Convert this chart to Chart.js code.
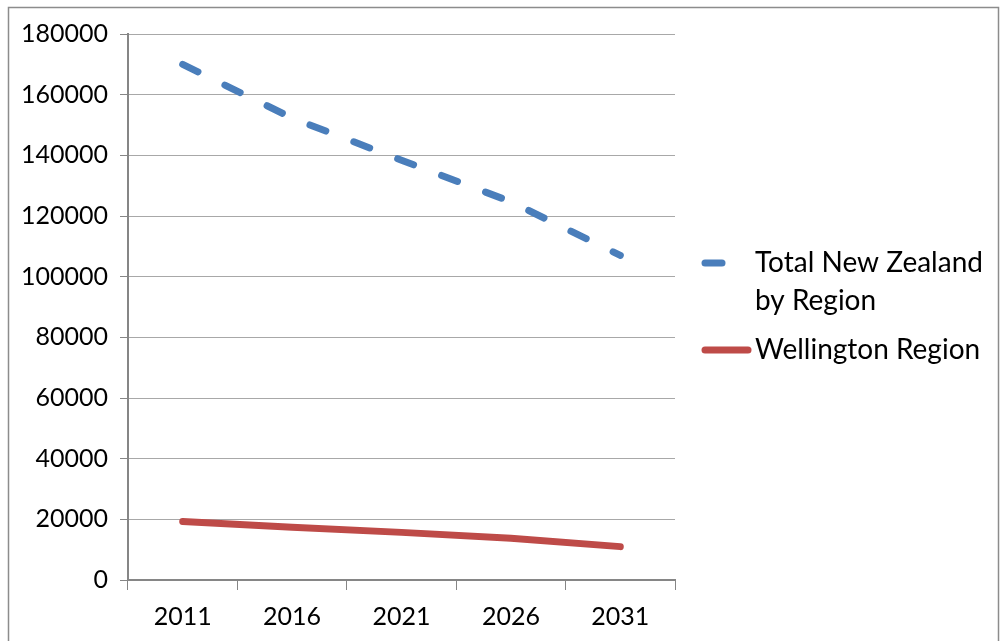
<!DOCTYPE html>
<html>
<head>
<meta charset="utf-8">
<script src="https://cdn.jsdelivr.net/npm/chart.js@4"></script>
<style>
    body { margin: 0; background: #fff; }
    #wrap { position: relative; width: 1002px; height: 641px; }
</style>
</head>
<body>
<div id="wrap"><canvas id="popChart"></canvas></div>
<script>
// Chart data
const years = ['2011', '2016', '2021', '2026', '2031'];
const totalNZ = [170000, 152300, 138400, 124700, 107000];
const wellington = [19300, 17400, 15700, 13800, 11000];
const seriesNames = [['Total New Zealand', 'by Region'], ['Wellington Region']];
const yMin = 0;
const yMax = 180000;
const yStep = 20000;

const FONT = "Lato, 'Open Sans', sans-serif";

// Outer frame like the spreadsheet chart border
const framePlugin = {
    id: 'frame',
    beforeDraw(chart) {
        const ctx = chart.ctx;
        ctx.save();
        ctx.strokeStyle = '#8c8c8c';
        ctx.lineWidth = 1.5;
        ctx.strokeRect(8.5, 7.5, 990, 700);
        ctx.restore();
    }
};

// Legend on the right, with wrapped first label
const sideLegend = {
    id: 'sideLegend',
    afterDraw(chart) {
        const ctx = chart.ctx;
        const area = chart.chartArea;
        const x0 = area.right + 30;
        const x1 = area.right + 73;
        const tx = area.right + 80;
        const rows = [263, 350];
        ctx.save();
        ctx.font = '28px ' + FONT;
        ctx.fillStyle = '#000';
        ctx.textBaseline = 'middle';
        chart.data.datasets.forEach((ds, i) => {
            const y = rows[i];
            ctx.beginPath();
            ctx.strokeStyle = ds.borderColor;
            ctx.lineWidth = ds.borderWidth;
            ctx.lineCap = 'round';
            ctx.setLineDash(ds.borderDash || []);
            ctx.moveTo(x0, y);
            ctx.lineTo(x1, y);
            ctx.stroke();
            ctx.setLineDash([]);
            seriesNames[i].forEach((line, j) => {
                ctx.fillText(line, tx, y + j * 38);
            });
        });
        ctx.restore();
    }
};

const ctx = document.getElementById('popChart').getContext('2d');
new Chart(ctx, {
    type: 'line',
    data: {
        labels: years,
        datasets: [{
            label: seriesNames[0].join(' '),
            data: totalNZ,
            borderColor: '#4a7ebb',
            borderWidth: 7,
            borderDash: [17, 30],
            borderCapStyle: 'round',
            pointRadius: 0,
            tension: 0,
            fill: false
        }, {
            label: seriesNames[1].join(' '),
            data: wellington,
            borderColor: '#be4b48',
            borderWidth: 7,
            borderCapStyle: 'round',
            pointRadius: 0,
            tension: 0,
            fill: false
        }]
    },
    options: {
        responsive: true,
        maintainAspectRatio: false,
        animation: false,
        layout: {
            padding: { left: 0, right: 327, top: 34, bottom: 0 }
        },
        plugins: {
            legend: { display: false },
            tooltip: { enabled: false }
        },
        scales: {
            x: {
                offset: true,
                grid: {
                    offset: true,
                    drawOnChartArea: false,
                    drawTicks: true,
                    tickLength: 10,
                    color: '#868686'
                },
                border: { color: '#868686', width: 2 },
                ticks: {
                    color: '#000',
                    padding: 12,
                    maxRotation: 0,
                    font: { family: FONT, size: 25 }
                },
                afterFit(scale) {
                    scale.height = 61;
                }
            },
            y: {
                min: yMin,
                max: yMax,
                grid: {
                    color: '#a8a8a8',
                    lineWidth: 1,
                    borderDash: [1, 1],
                    tickLength: 8,
                    tickColor: '#868686',
                    tickBorderDash: []
                },
                border: { color: '#868686', width: 2 },
                ticks: {
                    stepSize: yStep,
                    color: '#000',
                    padding: 12,
                    font: { family: FONT, size: 25 },
                    callback: v => String(v)
                },
                afterFit(scale) {
                    scale.width = 128;
                    scale.paddingTop = 0;
                    scale.paddingBottom = 0;
                }
            }
        }
    },
    plugins: [framePlugin, sideLegend]
});
</script>
</body>
</html>
